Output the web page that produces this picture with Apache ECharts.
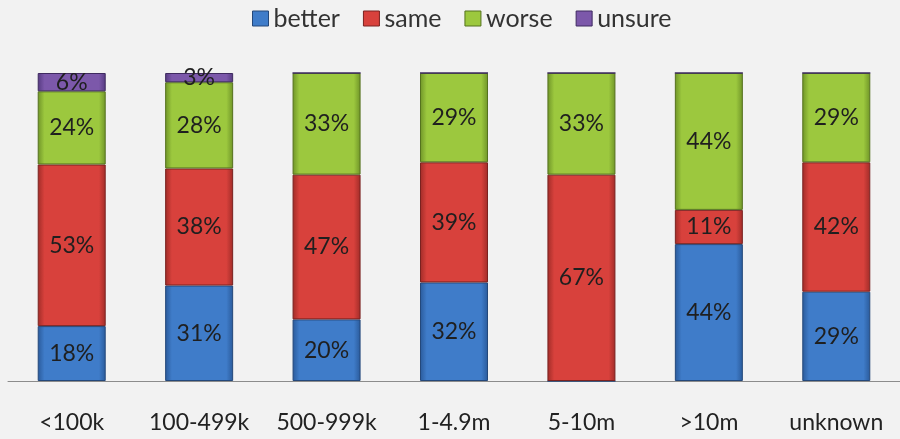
<!DOCTYPE html>
<html><head><meta charset="utf-8">
<script src="https://cdn.jsdelivr.net/npm/echarts@6/dist/echarts.min.js"></script>
<style>html,body{margin:0;padding:0;background:#f2f2f2;}#c{width:900px;height:439px;}</style>
</head><body><div id="c"></div>
<script>
var categories = ['<100k','100-499k','500-999k','1-4.9m','5-10m','>10m','unknown'];
var better = [18,31,20,32,0,44,29];
var same   = [53,38,47,39,67,11,42];
var worse  = [24,28,33,29,33,44,29];
var unsure = [6,3,0,0,0,0,0];
var seriesNames = ['better','same','worse','unsure'];
var baseColors = ['#3f7cc9','#d8413c','#9cc83e','#7c58aa'];
var edgeColors = ['#2a5a9a','#a02c28','#6f9428','#553a80'];
var borderColors = ['#24487a','#7a2220','#55721e','#3f2a60'];
var FONT = 'Lato, "Open Sans", sans-serif';

var raw = [better, same, worse, unsure];
var totals = categories.map(function(_, i){ return raw.reduce(function(s, a){ return s + a[i]; }, 0); });

var chart = echarts.init(document.getElementById('c'));
var series = raw.map(function(arr, k){
  return {
    name: seriesNames[k], type: 'bar', stack: 'all', barWidth: 68,
    data: arr.map(function(v, i){ return {value: v / totals[i] * 100, orig: v}; }),
    itemStyle: {
      color: new echarts.graphic.LinearGradient(0,0,1,0,[
        {offset:0,color:edgeColors[k]},{offset:0.1,color:baseColors[k]},
        {offset:0.9,color:baseColors[k]},{offset:1,color:edgeColors[k]}]),
      borderColor: borderColors[k], borderWidth: 1
    },
    label: {
      show: true, position: 'inside', fontSize: 23, color: '#1f1f1f',
      fontFamily: FONT,
      formatter: function(p){ return p.data.orig > 0 ? p.data.orig + '%' : ''; }
    }
  };
});

chart.setOption({
  backgroundColor: '#f2f2f2',
  animation: false,
  legend: {
    data: seriesNames.map(function(n,k){ return {name:n, itemStyle:{color:baseColors[k], borderColor:borderColors[k], borderWidth:1}}; }),
    top: 1, left: 247, icon: 'rect', itemWidth: 16, itemHeight: 15, itemGap: 23, itemTextGap: 8,
    textStyle: {fontSize: 25, color: '#333', fontFamily: FONT}
  },
  grid: {left: 8, width: 903, top: 73, bottom: 58, containLabel: false},
  xAxis: {
    type: 'category', data: categories,
    axisLine: {lineStyle: {color: '#8c8c8c', width: 1}},
    axisTick: {show: false},
    axisLabel: {interval: 0, fontSize: 23, color: '#222', margin: 30, fontFamily: FONT}
  },
  yAxis: {type: 'value', min: 0, max: 100, show: false, splitLine: {show: false}},
  series: series
});
</script></body></html>
